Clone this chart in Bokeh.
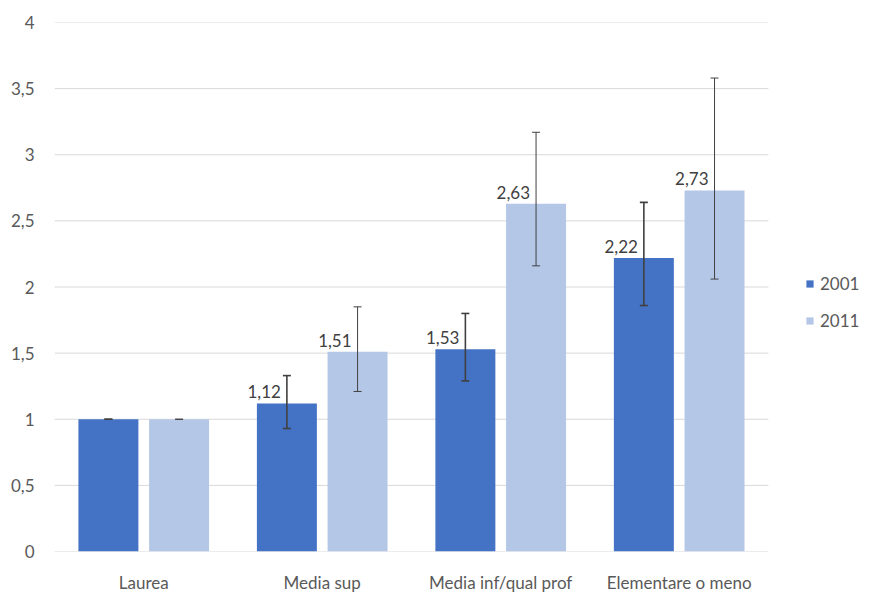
from bokeh.plotting import figure
from bokeh.models import ColumnDataSource, Whisker, TeeHead, Legend, LegendItem, FixedTicker, Range1d
from bokeh.transform import dodge
from bokeh.embed import file_html
from bokeh.resources import INLINE
from bokeh.core.properties import value

categories = ["Laurea", "Media sup", "Media inf/qual prof", "Elementare o meno"]
v2001 = [1.00, 1.12, 1.53, 2.22]
lo2001 = [1.00, 0.93, 1.29, 1.86]
hi2001 = [1.00, 1.33, 1.80, 2.64]
v2011 = [1.00, 1.51, 2.63, 2.73]
lo2011 = [1.00, 1.21, 2.16, 2.06]
hi2011 = [1.00, 1.85, 3.17, 3.58]
lab2001 = ["", "1,12", "1,53", "2,22"]
lab2011 = ["", "1,51", "2,63", "2,73"]
yticks = [0, 0.5, 1, 1.5, 2, 2.5, 3, 3.5, 4]
ytick_labels = ["0", "0,5", "1", "1,5", "2", "2,5", "3", "3,5", "4"]

FONT = "Lato"
GREY = "#595959"
C1 = "#4472C4"
C2 = "#B4C7E7"

xs = [i + 0.5 for i in range(len(categories))]
src = ColumnDataSource(dict(x=xs, v1=v2001, lo1=lo2001, hi1=hi2001,
                            v2=v2011, lo2=lo2011, hi2=hi2011, l1=lab2001, l2=lab2011))

p = figure(x_range=Range1d(0, 4.555), y_range=Range1d(0, 4), width=867, height=595,
           output_backend="svg", toolbar_location=None,
           min_border_left=54, min_border_right=0, min_border_top=22, min_border_bottom=42)
p.outline_line_color = None
p.background_fill_color = "white"
p.xgrid.grid_line_color = None
p.ygrid.grid_line_color = None

# horizontal gridlines across the category area only
p.segment(x0=[0] * len(yticks), x1=[len(categories)] * len(yticks), y0=yticks, y1=yticks,
          line_color="#D9D9D9", line_width=1)

off = 0.198
w = 0.336
r1 = p.vbar(x=dodge("x", -off), top="v1", width=w, source=src, fill_color=C1, line_color=None)
r2 = p.vbar(x=dodge("x", off), top="v2", width=w, source=src, fill_color=C2, line_color=None)

for base, lo, hi, lw in [(dodge("x", -off), "lo1", "hi1", 1.6),
                          (dodge("x", off), "lo2", "hi2", 1.0)]:
    wk = Whisker(source=src, base=base, lower=lo, upper=hi, line_color="#404040", line_width=lw,
                 level="overlay",
                 upper_head=TeeHead(size=8, line_color="#404040", line_width=lw),
                 lower_head=TeeHead(size=8, line_color="#404040", line_width=lw))
    p.add_layout(wk)

p.text(x=dodge("x", -off), y="v1", text="l1", source=src,
       text_align="right", text_baseline="bottom", x_offset=-6, y_offset=-5,
       text_font=value(FONT), text_font_size="17px", text_color="#404040")
p.text(x=dodge("x", off), y="v2", text="l2", source=src,
       text_align="right", text_baseline="bottom", x_offset=-6, y_offset=-5,
       text_font=value(FONT), text_font_size="17px", text_color="#404040")

p.yaxis.ticker = FixedTicker(ticks=yticks)
p.yaxis.major_label_overrides = {t: l for t, l in zip(yticks, ytick_labels)}
p.xaxis.ticker = FixedTicker(ticks=xs)
p.xaxis.major_label_overrides = {x: c for x, c in zip(xs, categories)}
for ax in [p.xaxis, p.yaxis]:
    ax.axis_line_color = None
    ax.major_tick_line_color = None
    ax.minor_tick_line_color = None
    ax.major_label_text_font = FONT
    ax.major_label_text_font_size = "17px"
    ax.major_label_text_color = GREY
p.yaxis.major_label_standoff = 14
p.xaxis.major_label_standoff = 14

legend = Legend(items=[LegendItem(label="2001", renderers=[r1]),
                       LegendItem(label="2011", renderers=[r2])],
                location=(751, 220), orientation="vertical",
                glyph_width=9, glyph_height=9, label_standoff=6, spacing=16,
                label_text_font=FONT, label_text_font_size="17px", label_text_color=GREY,
                background_fill_alpha=0, border_line_color=None, padding=0, margin=0)
p.add_layout(legend)

open("out.html", "w").write(file_html(p, INLINE))
